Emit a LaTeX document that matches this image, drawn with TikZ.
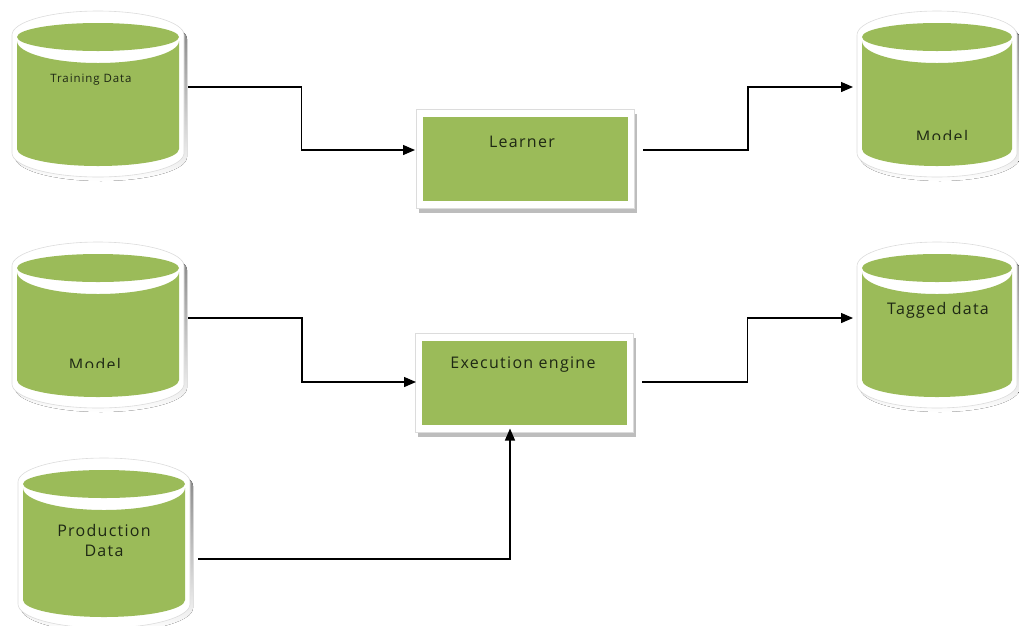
\documentclass[tikz,border=0pt]{standalone}
\usepackage{fontspec}
\setmainfont{Open Sans}[LetterSpace=8]
\usetikzlibrary{calc,shadows,arrows.meta}
\definecolor{olive}{HTML}{9BBB59}
\definecolor{shade}{HTML}{BDBDBD}
\definecolor{rim}{HTML}{DCDCDC}
\definecolor{ink}{HTML}{1E2814}
\tikzset{
  dbnode/.style={rectangle, inner sep=0pt, outer sep=0pt},
  procbox/.style={rectangle, inner sep=0pt, outer sep=0pt, minimum width=218pt, minimum height=99pt,
    fill=white, draw=rim, line width=0.6pt,
    drop shadow={shadow xshift=3pt, shadow yshift=-4pt, fill=shade, opacity=1},
    path picture={\fill[olive] ([shift={(7pt,-7pt)}]path picture bounding box.north west)
      rectangle ([shift={(-6pt,8pt)}]path picture bounding box.south east);}},
  lbl/.style={text=ink, font=\fontsize{16}{20}\selectfont, inner sep=0pt, align=center},
  smalllbl/.style={lbl, font=\fontsize{11.5}{14}\selectfont},
  arr/.style={line width=1.3pt, -{Triangle[length=12pt,width=10pt]}},
}
% #1 name, #2 cx, #3 top, #4 bottom, #5 half width
\newcommand{\dbcyl}[5]{%
  \node[dbnode, minimum width={2*#5*1pt}, minimum height={(#4-#3)*1pt}] (#1) at (#2,{(#3+#4)/2}) {};
  \fill[shade, shift={(3pt,-4pt)}] ({#2-#5},{#3+24}) -- ({#2-#5},{#4-24})
     arc[start angle=180, end angle=360, x radius={#5*1pt}, y radius=24pt]
     -- ({#2+#5},{#3+24}) arc[start angle=0, end angle=180, x radius={#5*1pt}, y radius=24pt] -- cycle;
  \filldraw[fill=white, draw=rim, line width=0.6pt] ({#2-#5},{#3+24}) -- ({#2-#5},{#4-24})
     arc[start angle=180, end angle=360, x radius={#5*1pt}, y radius=24pt]
     -- ({#2+#5},{#3+24}) arc[start angle=0, end angle=180, x radius={#5*1pt}, y radius=24pt] -- cycle;
  \fill[olive] (#2,{#3+26}) ellipse [x radius={(#5-5)*1pt}, y radius=14pt];
  \fill[olive] ({#2-#5+5},{#3+30}) arc[start angle=180, end angle=360, x radius={(#5-5)*1pt}, y radius=22pt]
     -- ({#2+#5-5},{#4-28}) arc[start angle=0, end angle=-180, x radius={(#5-5)*1pt}, y radius=17pt] -- cycle;
}
\begin{document}
\begin{tikzpicture}[x=1pt, y=-1pt]
\useasboundingbox (0,0) rectangle (1019,625);

% data stores
\dbcyl{td}{98}{11}{177}{86}
\dbcyl{mr}{937}{11}{177}{80}
\dbcyl{ml}{98}{242}{408}{86}
\dbcyl{tg}{937}{242}{408}{80}
\dbcyl{pd}{104}{458}{628}{86}

% process boxes
\node[procbox] (learner) at (525,159) {};
\node[procbox] (exec) at (524,383) {};

% labels
\node[smalllbl] (tdl) at (91,80) {Training Data};
\node[lbl] (lrl) at (522,142) {Learner};
\node[lbl] (exl) at (523,365) {Execution engine};
\node[lbl] (tgl) at (938,310) {Tagged data};
\node[lbl] (pdl) at (104,540) {Production\\Data};
\begin{scope}
  \clip (870,110) rectangle (1010,139);
  \node[lbl] (mrl) at (942,136) {Model};
\end{scope}
\begin{scope}
  \clip (30,340) rectangle (170,367);
  \node[lbl] (mll) at (95,364) {Model};
\end{scope}

% connectors
\draw[arr] ([xshift=4pt,yshift=7pt]td.east) -| ($([xshift=4pt,yshift=7pt]td.east)!.5!([xshift=-1pt,yshift=9pt]learner.west)$) |- ([xshift=-1pt,yshift=9pt]learner.west);
\draw[arr] ([xshift=9pt,yshift=9pt]learner.east) -| ($([xshift=9pt,yshift=9pt]learner.east)!.5!([xshift=-4pt,yshift=7pt]mr.west)$) |- ([xshift=-4pt,yshift=7pt]mr.west);
\draw[arr] ([xshift=4pt,yshift=7pt]ml.east) -| ($([xshift=4pt,yshift=7pt]ml.east)!.5!([xshift=1pt,yshift=1pt]exec.west)$) |- ([xshift=1pt,yshift=1pt]exec.west);
\draw[arr] ([xshift=9pt,yshift=1pt]exec.east) -| ($([xshift=9pt,yshift=1pt]exec.east)!.5!([xshift=-4pt,yshift=7pt]tg.west)$) |- ([xshift=-4pt,yshift=7pt]tg.west);
\draw[arr] ([xshift=8pt,yshift=-16pt]pd.east) -| ([xshift=-14pt,yshift=4pt]exec.south);
\end{tikzpicture}
\end{document}
